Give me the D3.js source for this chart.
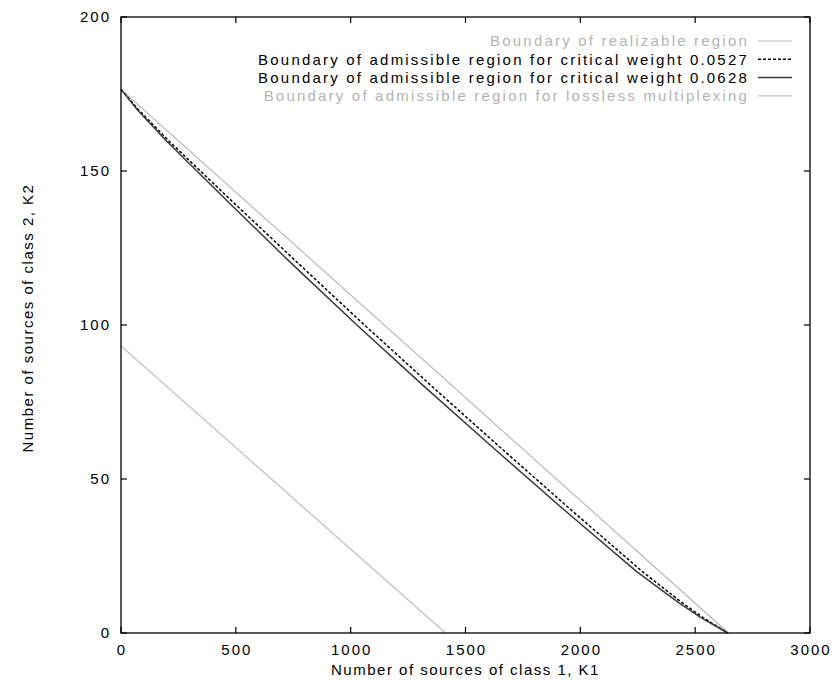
<!DOCTYPE html>
<html>
<head>
<meta charset="utf-8">
<script src="https://cdn.jsdelivr.net/npm/d3@7"></script>
<style>
  body { margin: 0; background: #fff; }
  text { font-family: "Liberation Sans", Arial, sans-serif; }
</style>
</head>
<body>
<script>
// values (K1, K2)
const realizable = [[0, 176.5], [2645, 0]];
const weight0527 = [[0, 176.5], [75, 170], [205, 160], [486, 140], [772, 120], [1060, 100],
  [1355, 80], [1655, 60], [1959, 40], [2269, 20], [2440, 10], [2535, 5], [2642, 0]];
const weight0628 = [[0, 176.5], [70, 170], [195, 160], [466, 140], [742, 120], [1027, 100],
  [1321, 80], [1623, 60], [1929, 40], [2244, 20], [2425, 10], [2525, 5], [2642, 0]];
const lossless = [[0, 93.2], [1413, 0]];

const xTicks = [0, 500, 1000, 1500, 2000, 2500, 3000];
const yTicks = [0, 50, 100, 150, 200];

const legendNames = [
  "Boundary of realizable region",
  "Boundary of admissible region for critical weight 0.0527",
  "Boundary of admissible region for critical weight 0.0628",
  "Boundary of admissible region for lossless multiplexing"
];

const series = [
  {data: realizable, color: "#b4b4b4", dash: null, width: 1.1},
  {data: weight0527, color: "#000", dash: "3,2", width: 1.5},
  {data: weight0628, color: "#3a3a3a", dash: null, width: 1.5},
  {data: lossless, color: "#c4c4c4", dash: null, width: 1.4}
];

const W = 839, H = 680;
const mLeft = 121, mRight = 810, mTop = 17, mBottom = 633;

const svg = d3.select("body").append("svg")
  .attr("width", W)
  .attr("height", H);

const x = d3.scaleLinear().domain([0, 3000]).range([mLeft, mRight]);
const y = d3.scaleLinear().domain([0, 200]).range([mBottom, mTop]);

const tickLen = 6;
const font = 15;

// ticks (inward, on all four sides)
const tk = svg.append("g").attr("stroke", "#000").attr("stroke-width", 1.2);
xTicks.forEach(v => {
  tk.append("line").attr("x1", x(v)).attr("x2", x(v)).attr("y1", mBottom).attr("y2", mBottom - tickLen);
  tk.append("line").attr("x1", x(v)).attr("x2", x(v)).attr("y1", mTop).attr("y2", mTop + tickLen);
});
yTicks.forEach(v => {
  tk.append("line").attr("x1", mLeft).attr("x2", mLeft + tickLen).attr("y1", y(v)).attr("y2", y(v));
  tk.append("line").attr("x1", mRight).attr("x2", mRight - tickLen).attr("y1", y(v)).attr("y2", y(v));
});

// tick labels
svg.append("g").selectAll("text")
  .data(xTicks)
  .join("text")
    .attr("x", d => x(d) + 1)
    .attr("y", 655)
    .attr("text-anchor", "middle")
    .attr("font-size", font)
    .attr("letter-spacing", 2)
    .text(d => d);

svg.append("g").selectAll("text")
  .data(yTicks)
  .join("text")
    .attr("x", mLeft - 10)
    .attr("y", d => y(d))
    .attr("dy", "0.36em")
    .attr("text-anchor", "end")
    .attr("font-size", font)
    .attr("letter-spacing", 2)
    .text(d => d);

// axis titles
svg.append("text")
  .attr("x", (mLeft + mRight) / 2)
  .attr("y", 675)
  .attr("text-anchor", "middle")
  .attr("font-size", 15)
  .attr("letter-spacing", 1.5)
  .text("Number of sources of class 1, K1");

svg.append("text")
  .attr("transform", `translate(33,318) rotate(-90)`)
  .attr("text-anchor", "middle")
  .attr("font-size", 15)
  .attr("letter-spacing", 1.5)
  .text("Number of sources of class 2, K2");

// curves
const line = d3.line().x(d => x(d[0])).y(d => y(d[1]));

svg.append("g").attr("fill", "none")
  .selectAll("path")
  .data(series)
  .join("path")
    .attr("d", d => line(d.data))
    .attr("stroke", d => d.color)
    .attr("stroke-width", d => d.width)
    .attr("stroke-dasharray", d => d.dash);

// legend
const lg = svg.append("g");
legendNames.forEach((name, i) => {
  const ly = 41 + i * 18.3;
  lg.append("text")
    .attr("x", 749)
    .attr("y", ly)
    .attr("dy", "0.36em")
    .attr("text-anchor", "end")
    .attr("font-size", 15)
    .attr("letter-spacing", 2.2)
    .attr("fill", i === 0 || i === 3 ? "#b4b4b4" : "#000")
    .text(name);
  lg.append("line")
    .attr("x1", 758).attr("x2", 792)
    .attr("y1", ly).attr("y2", ly)
    .attr("stroke", series[i].color)
    .attr("stroke-width", series[i].width)
    .attr("stroke-dasharray", series[i].dash);
});

// frame
svg.append("rect")
  .attr("x", mLeft).attr("y", mTop)
  .attr("width", mRight - mLeft).attr("height", mBottom - mTop)
  .attr("fill", "none")
  .attr("stroke", "#000")
  .attr("stroke-width", 1.3);
</script>
</body>
</html>
